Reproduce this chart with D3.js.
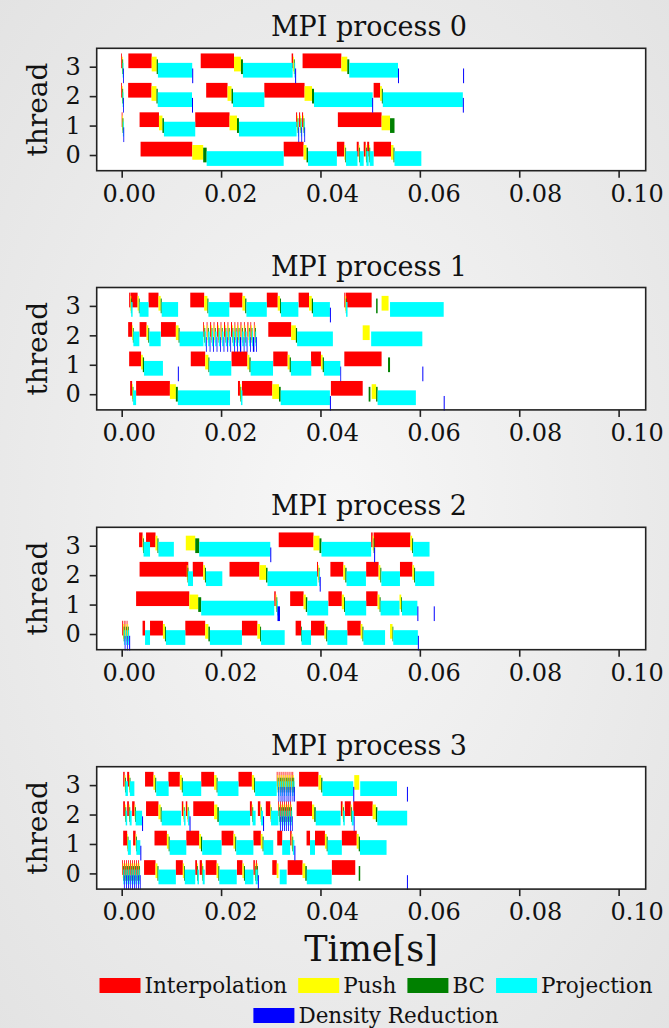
<!DOCTYPE html>
<html>
<head>
<meta charset="utf-8">
<script src="https://cdn.jsdelivr.net/npm/d3@7"></script>
<style>
body { margin: 0; }
svg { display: block; font-family: 'DejaVu Serif', serif; }
</style>
</head>
<body>
<svg id="fig" width="669" height="1028"></svg>
<script>
// task names + colours (matplotlib basic colours)
const categories = ["Interpolation", "Push", "BC", "Projection", "Density Reduction"];
const colors = ["#ff0000", "#ffff00", "#008000", "#00ffff", "#0000ff"];
const processes = ["MPI process 0", "MPI process 1", "MPI process 2", "MPI process 3"];
const threads = [0, 1, 2, 3];
const xTicks = [0.00, 0.02, 0.04, 0.06, 0.08, 0.10];

// one row per time step: [thread, start(ms), interpolation, push, bc, projection, density] durations in ms
const proc0 = [
  [3, -0.1, 0.15, 0.08, 0.06, 0.1, 0.1],
  [3, 1.34, 4.7, 1.0, 0.25, 6.9, 0.2],
  [3, 15.9, 6.7, 1.4, 0.4, 10.0, 0],
  [3, 34.2, 0.3, 0.15, 0.1, 0.15, 0.2],
  [3, 36.4, 7.8, 1.2, 0.4, 9.8, 0.2],
  [3, 68.7, 0, 0, 0, 0, 0.2],
  [2, -0.1, 0.15, 0.08, 0.06, 0.1, 0.1],
  [2, 1.3, 4.7, 1.0, 0.25, 6.9, 0.2],
  [2, 17.0, 4.3, 0.8, 0.3, 6.3, 0],
  [2, 28.7, 8.1, 1.5, 0.4, 11.8, 0],
  [2, 50.4, 0, 0, 0, 0, 0.2],
  [2, 50.7, 1.3, 0.35, 0.2, 16.1, 0.2],
  [1, 0.0, 0.12, 0.06, 0.06, 0.1, 0.15],
  [1, 3.6, 3.9, 0.7, 0.3, 6.3, 0],
  [1, 14.8, 6.9, 1.5, 0.4, 11.6, 0],
  [1, 35.1, 0.2, 0.1, 0.05, 0.1, 0.15],
  [1, 35.7, 0.2, 0.1, 0.05, 0.1, 0.15],
  [1, 36.3, 0.2, 0.1, 0.05, 0.1, 0.15],
  [1, 43.5, 8.8, 1.7, 0.9, 0, 0],
  [0, 3.8, 10.4, 2.2, 0.7, 15.5, 0],
  [0, 32.6, 4.0, 0.6, 0.3, 5.8, 0],
  [0, 43.3, 1.5, 0.2, 0.15, 2.3, 0],
  [0, 47.3, 0.4, 0.1, 0.1, 0.8, 0],
  [0, 48.7, 0.4, 0.1, 0.05, 0.45, 0],
  [0, 49.4, 0.4, 0.05, 0.05, 0.8, 0],
  [0, 50.7, 3.5, 0.5, 0.2, 5.4, 0]
];

const proc1 = [
  [3, 1.5, 0.25, 0.1, 0.05, 0.3, 0],
  [3, 1.8, 1.4, 0.25, 0.15, 1.8, 0],
  [3, 5.4, 2.0, 0.45, 0.2, 3.3, 0],
  [3, 13.8, 2.8, 0.65, 0.2, 4.2, 0],
  [3, 21.7, 2.6, 0.55, 0.25, 4.1, 0],
  [3, 29.2, 2.2, 0.45, 0.2, 3.5, 0],
  [3, 35.6, 2.1, 0.55, 0.25, 3.4, 0.2],
  [3, 44.8, 0.2, 0.1, 0.05, 0.3, 0],
  [3, 45.1, 5.2, 0, 0, 0, 0],
  [3, 51.2, 0, 0, 0.3, 0, 0],
  [3, 52.3, 0, 1.4, 0, 0, 0],
  [3, 54.0, 0, 0, 0, 10.8, 0],
  [2, 1.3, 0.8, 0.15, 0.1, 1.2, 0],
  [2, 3.6, 1.4, 0.35, 0.2, 2.3, 0],
  [2, 7.9, 3.0, 0.55, 0.2, 4.8, 0],
  [2, 16.4, 0.15, 0.1, 0.05, 0.25, 0.1],
  [2, 17.1, 0.15, 0.1, 0.05, 0.3, 0.05],
  [2, 17.8, 0.2, 0.1, 0.05, 0.25, 0.1],
  [2, 18.5, 0.15, 0.1, 0.05, 0.3, 0.1],
  [2, 19.2, 0.2, 0.1, 0.05, 0.25, 0.05],
  [2, 19.9, 0.15, 0.1, 0.05, 0.3, 0.15],
  [2, 20.6, 0.2, 0.1, 0.05, 0.3, 0.1],
  [2, 21.3, 0.15, 0.1, 0.05, 0.25, 0.1],
  [2, 22.0, 0.2, 0.1, 0.05, 0.3, 0.1],
  [2, 22.7, 0.15, 0.1, 0.05, 0.25, 0.15],
  [2, 23.3, 0.15, 0.1, 0.05, 0.2, 0.25],
  [2, 23.9, 0.2, 0.1, 0.05, 0.3, 0.1],
  [2, 24.6, 0.15, 0.1, 0.05, 0.25, 0.1],
  [2, 25.3, 0.2, 0.1, 0.05, 0.2, 0.1],
  [2, 25.9, 0.15, 0.1, 0.05, 0.2, 0.3],
  [2, 26.6, 0.15, 0.1, 0.05, 0.15, 0.1],
  [2, 29.5, 4.6, 0.95, 0.25, 7.2, 0],
  [2, 48.5, 0, 1.4, 0, 0, 0],
  [2, 50.2, 0, 0, 0, 10.3, 0],
  [1, 1.5, 2.4, 0.35, 0.25, 3.8, 0],
  [1, 11.3, 0, 0, 0, 0, 0.2],
  [1, 13.9, 2.9, 0.65, 0.2, 4.4, 0],
  [1, 22.1, 3.2, 0.4, 0.25, 4.5, 0],
  [1, 30.5, 2.9, 0.4, 0.25, 4.1, 0],
  [1, 38.1, 2.0, 0.35, 0.25, 3.3, 0.15],
  [1, 44.8, 7.5, 0, 0, 0, 0],
  [1, 53.6, 0, 0, 0.4, 0, 0],
  [1, 60.5, 0, 0, 0, 0, 0.2],
  [0, 1.7, 0.4, 0.1, 0.1, 0.6, 0],
  [0, 2.9, 6.8, 1.2, 0.4, 10.5, 0],
  [0, 23.4, 0.4, 0.1, 0.1, 0.3, 0],
  [0, 24.2, 6.1, 1.35, 0.35, 9.9, 0.2],
  [0, 42.1, 6.4, 0, 0, 0, 0],
  [0, 49.7, 0, 0, 0.35, 0, 0],
  [0, 50.3, 0, 0.9, 0.3, 7.7, 0],
  [0, 64.8, 0, 0, 0, 0, 0.2]
];

const proc2 = [
  [3, 3.5, 0.7, 0.1, 0.1, 1.3, 0],
  [3, 4.9, 1.9, 0.4, 0.2, 3.1, 0],
  [3, 12.9, 0, 1.9, 0.8, 14.3, 0.2],
  [3, 31.6, 7.0, 1.2, 0.4, 10.0, 0],
  [3, 50.2, 0.3, 0.2, 0.1, 0, 0.2],
  [3, 50.7, 7.4, 0.35, 0.2, 3.3, 0],
  [2, 3.6, 9.8, 0, 0, 0, 0],
  [2, 12.8, 0.3, 0.15, 0.1, 1.0, 0],
  [2, 14.3, 2.1, 0.35, 0.2, 3.3, 0],
  [2, 21.7, 6.0, 1.35, 0.3, 10.0, 0],
  [2, 39.3, 0.2, 0.15, 0.1, 0.1, 0.2],
  [2, 42.0, 2.6, 0.4, 0.25, 3.9, 0],
  [2, 49.2, 2.5, 0.35, 0.2, 3.75, 0],
  [2, 56.0, 2.5, 0.35, 0.2, 3.85, 0],
  [1, 2.9, 10.7, 1.8, 0.6, 14.7, 0],
  [1, 30.7, 0.3, 0.15, 0.1, 0.1, 0.5],
  [1, 33.9, 2.7, 0.45, 0.3, 4.2, 0],
  [1, 41.6, 2.7, 0.45, 0.2, 4.25, 0],
  [1, 49.2, 2.3, 0.4, 0.2, 3.8, 0],
  [1, 55.9, 0, 0.35, 0.15, 3.1, 0.2],
  [1, 62.8, 0, 0, 0, 0, 0.2],
  [0, 0.1, 0.2, 0.1, 0.05, 0.15, 0.05],
  [0, 0.55, 0.2, 0.1, 0.05, 0.15, 0.05],
  [0, 1.0, 0.15, 0.1, 0.05, 0.2, 0.2],
  [0, 4.2, 0.5, 0, 0, 1.0, 0],
  [0, 5.7, 2.6, 0.4, 0.2, 3.9, 0],
  [0, 12.8, 4.0, 0.65, 0.3, 6.45, 0],
  [0, 24.2, 3.1, 0.55, 0.2, 4.75, 0],
  [0, 35.0, 1.1, 0, 0.1, 1.9, 0],
  [0, 38.1, 2.7, 0.35, 0.25, 4.0, 0],
  [0, 45.4, 2.7, 0.35, 0.2, 4.35, 0],
  [0, 54.0, 0, 0.5, 0.15, 4.95, 0.2]
];

const proc3 = [
  [3, 0.3, 0.3, 0.1, 0.05, 0.5, 0],
  [3, 1.1, 0.4, 0.1, 0.05, 0.9, 0],
  [3, 4.7, 1.7, 0.35, 0.2, 2.5, 0],
  [3, 9.4, 2.3, 0.4, 0.2, 3.7, 0],
  [3, 16.0, 2.6, 0.5, 0.2, 4.2, 0],
  [3, 23.5, 2.7, 0.45, 0.2, 4.35, 0],
  [3, 31.2, 0.12, 0.08, 0.05, 0.1, 0.15],
  [3, 31.6, 0.15, 0.08, 0.05, 0.1, 0.15],
  [3, 32.0, 0.12, 0.08, 0.05, 0.12, 0.15],
  [3, 32.4, 0.12, 0.08, 0.05, 0.1, 0.15],
  [3, 32.8, 0.15, 0.08, 0.05, 0.1, 0.15],
  [3, 33.2, 0.12, 0.08, 0.05, 0.12, 0.15],
  [3, 33.6, 0.12, 0.08, 0.05, 0.1, 0.15],
  [3, 34.0, 0.15, 0.08, 0.05, 0.1, 0.15],
  [3, 34.35, 0.12, 0.08, 0.05, 0.1, 0.1],
  [3, 35.7, 3.9, 0.55, 0.25, 6.2, 0.2],
  [3, 46.8, 0, 1.0, 0, 0, 0],
  [3, 48.0, 0, 0, 0, 7.4, 0],
  [3, 57.4, 0, 0, 0, 0, 0.2],
  [2, 0.3, 0.35, 0.1, 0.05, 0.3, 0],
  [2, 1.1, 0.35, 0.1, 0.05, 0.4, 0],
  [2, 2.1, 0.5, 0.1, 0.1, 1.3, 0.2],
  [2, 4.9, 2.5, 0.45, 0.2, 3.9, 0],
  [2, 12.1, 0.3, 0.1, 0.05, 0.3, 0],
  [2, 12.9, 0.3, 0.1, 0.05, 0.3, 0.2],
  [2, 14.4, 4.2, 0.65, 0.3, 6.3, 0],
  [2, 25.8, 0.4, 0.1, 0.05, 0.6, 0],
  [2, 27.4, 0.5, 0.1, 0.05, 0.4, 0.2],
  [2, 29.0, 0.9, 0.1, 0.05, 1.5, 0],
  [2, 31.5, 0.12, 0.08, 0.05, 0.1, 0.15],
  [2, 31.9, 0.15, 0.08, 0.05, 0.1, 0.15],
  [2, 32.3, 0.12, 0.08, 0.05, 0.12, 0.15],
  [2, 32.7, 0.12, 0.08, 0.05, 0.1, 0.15],
  [2, 33.1, 0.15, 0.08, 0.05, 0.1, 0.15],
  [2, 33.5, 0.12, 0.08, 0.05, 0.12, 0.15],
  [2, 33.9, 0.12, 0.08, 0.05, 0.1, 0.1],
  [2, 35.2, 3.1, 0.45, 0.3, 5.0, 0],
  [2, 44.1, 0.35, 0.1, 0.05, 0.3, 0],
  [2, 44.9, 1.2, 0.1, 0.1, 0.4, 0.15],
  [2, 46.6, 3.9, 0.65, 0.3, 6.0, 0],
  [1, 0.3, 0.8, 0.1, 0.05, 0.6, 0],
  [1, 2.3, 0.5, 0.1, 0.05, 0.8, 0.2],
  [1, 6.6, 2.5, 0.35, 0.2, 3.35, 0],
  [1, 13.0, 2.6, 0.35, 0.25, 3.9, 0],
  [1, 20.1, 2.4, 0.35, 0.2, 3.45, 0],
  [1, 26.5, 1.5, 0.35, 0.2, 1.95, 0],
  [1, 31.3, 1.0, 0, 0, 1.6, 0],
  [1, 33.9, 0.3, 0.15, 0.1, 0.3, 0.2],
  [1, 37.2, 0.7, 0, 0, 1.0, 0],
  [1, 38.9, 2.0, 0.35, 0.2, 2.85, 0],
  [1, 44.3, 3.0, 0.4, 0.25, 5.35, 0],
  [0, 0.1, 0.12, 0.08, 0.05, 0.1, 0.15],
  [0, 0.5, 0.15, 0.08, 0.05, 0.1, 0.15],
  [0, 0.9, 0.12, 0.08, 0.05, 0.12, 0.15],
  [0, 1.3, 0.12, 0.08, 0.05, 0.1, 0.15],
  [0, 1.7, 0.15, 0.08, 0.05, 0.1, 0.15],
  [0, 2.1, 0.12, 0.08, 0.05, 0.12, 0.15],
  [0, 2.5, 0.12, 0.08, 0.05, 0.1, 0.15],
  [0, 2.9, 0.15, 0.08, 0.05, 0.1, 0.15],
  [0, 3.3, 0.12, 0.08, 0.05, 0.1, 0.15],
  [0, 4.5, 2.3, 0.4, 0.2, 3.5, 0],
  [0, 10.9, 1.4, 0.25, 0.15, 2.1, 0],
  [0, 14.8, 0.35, 0.05, 0.05, 0.3, 0],
  [0, 15.7, 0.45, 0.1, 0.05, 0.4, 0],
  [0, 16.9, 2.2, 0.35, 0.2, 3.5, 0],
  [0, 23.2, 1.1, 0.3, 0.2, 1.7, 0],
  [0, 26.5, 0.3, 0.1, 0.05, 0.3, 0],
  [0, 27.0, 0.2, 0.05, 0.05, 0.1, 0.2],
  [0, 30.3, 0.9, 0.35, 0, 0, 0],
  [0, 31.8, 0, 0, 0, 1.4, 0],
  [0, 33.4, 3.0, 0.55, 0.3, 5.0, 0],
  [0, 42.3, 4.7, 0, 0, 0, 0],
  [0, 47.7, 0, 0, 0.3, 0, 0],
  [0, 57.4, 0, 0, 0, 0, 0.2]
];

const allProcs = [proc0, proc1, proc2, proc3];

// ---- layout ----
const W = 669, H = 1028;
const left = 96.7, right = 645.7;
const panelTop = [48.3, 287.5, 527.3, 766.7];
const panelH = 122.4;
// vertical lane of each task inside a thread row (thread units): [top, bottom]
const lanes = [[0.45, -0.05], [0.34, -0.16], [0.25, -0.25], [0.13, -0.37], [-0.06, -0.56]];
const serif = "DejaVu Serif";

const svg = d3.select("#fig");

const defs = svg.append("defs");
const grad = defs.append("radialGradient").attr("id", "bg")
  .attr("cx", "50%").attr("cy", "50%").attr("r", "75%");
grad.append("stop").attr("offset", "0%").attr("stop-color", "#f7f7f7");
grad.append("stop").attr("offset", "100%").attr("stop-color", "#e2e2e2");
svg.append("rect").attr("width", W).attr("height", H).attr("fill", "url(#bg)");

const x = d3.scaleLinear().domain([-0.00503, 0.10545]).range([left, right]);
const y = d3.scaleLinear().domain([-0.533, 3.625]).range([panelH, 0]);
// the tick labels of the original sit a little right of their ticks, more so to the right
const labelShift = d3.scaleLinear().domain([0, 0.1]).range([7, 18]);

// turn steps into single coloured segments
function segments(steps) {
  const out = [];
  steps.forEach(s => {
    let t = s[1];
    for (let k = 0; k < 5; k++) {
      const d = s[2 + k];
      if (d > 0) out.push({thread: s[0], cat: k, start: t / 1000, end: (t + d) / 1000});
      t += d;
    }
  });
  // draw category by category, like the original plot
  return out.sort((a, b) => a.cat - b.cat);
}

allProcs.forEach((steps, p) => {
  const g = svg.append("g").attr("transform", "translate(0," + panelTop[p] + ")");

  g.append("rect")
    .attr("x", left).attr("y", 0)
    .attr("width", right - left).attr("height", panelH)
    .attr("fill", "#fff");

  g.selectAll(".bar")
    .data(segments(steps))
    .enter()
    .append("rect")
    .attr("class", "bar")
    .attr("x", d => x(d.start))
    .attr("width", d => Math.max(0.8, x(d.end) - x(d.start)))
    .attr("y", d => y(d.thread + lanes[d.cat][0]))
    .attr("height", d => y(d.thread + lanes[d.cat][1]) - y(d.thread + lanes[d.cat][0]))
    .attr("fill", d => colors[d.cat]);

  const xa = g.append("g")
    .attr("transform", "translate(0," + panelH + ")")
    .call(d3.axisBottom(x).tickValues(xTicks).tickFormat(d3.format(".2f")).tickSize(7).tickPadding(7));
  xa.selectAll("text").attr("dx", d => labelShift(d));
  const ya = g.append("g")
    .attr("transform", "translate(" + left + ",0)")
    .call(d3.axisLeft(y).tickValues(threads).tickFormat(d3.format("d")).tickSize(7).tickPadding(9));
  [xa, ya].forEach(a => {
    a.attr("font-family", serif).attr("font-size", 24);
    a.select(".domain").remove();
    a.selectAll("line").attr("stroke", "#222").attr("stroke-width", 1.6);
    a.selectAll("text").attr("fill", "#111");
  });

  g.append("rect")
    .attr("x", left).attr("y", 0)
    .attr("width", right - left).attr("height", panelH)
    .attr("fill", "none").attr("stroke", "#222").attr("stroke-width", 1.6);

  g.append("text")
    .attr("x", 369).attr("y", -12)
    .attr("text-anchor", "middle")
    .attr("font-family", serif).attr("font-size", 27).attr("fill", "#111")
    .text(processes[p]);

  g.append("text")
    .attr("transform", "translate(47," + (panelH / 2) + ") rotate(-90)")
    .attr("text-anchor", "middle")
    .attr("font-family", serif).attr("font-size", 28).attr("fill", "#111")
    .text("thread");
});

svg.append("text")
  .attr("x", 371).attr("y", 961)
  .attr("text-anchor", "middle")
  .attr("font-family", serif).attr("font-size", 35).attr("fill", "#111")
  .text("Time[s]");

// legend: 4 entries on the first row, 1 on the second
const legendRows = [[0, 1, 2, 3], [4]];
const legendBase = [993, 1023];
legendRows.forEach((row, r) => {
  const lg = svg.append("g");
  let cx = 0;
  row.forEach(k => {
    lg.append("rect").attr("x", cx).attr("y", legendBase[r] - 15)
      .attr("width", 41).attr("height", 15).attr("fill", colors[k]);
    const t = lg.append("text").attr("x", cx + 45).attr("y", legendBase[r])
      .attr("font-family", serif).attr("font-size", 21.5).attr("fill", "#111").text(categories[k]);
    cx += 45 + t.node().getComputedTextLength() + 11;
  });
  const wdt = cx - 11;
  lg.attr("transform", "translate(" + (376 - wdt / 2) + ",0)");
});
</script>
</body>
</html>
